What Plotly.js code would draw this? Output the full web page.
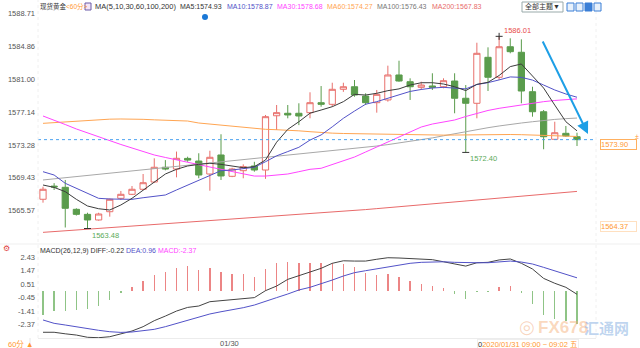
<!DOCTYPE html>
<html><head><meta charset="utf-8">
<script src="https://cdn.plot.ly/plotly-3.0.1.min.js"></script>
<style>html,body{margin:0;padding:0;background:#fff;overflow:hidden}#chart{width:640px;height:348px}</style>
</head><body><div id="chart"></div>
<script>
// ---- candle data (60-minute bars) ----
const openP  = [1566.91,1568.45,1568.31,1565.73,1565.14,1564.48,1565.45,1567.02,1567.49,1568.08,1568.93,1570.66,1570.45,1571.70,1571.39,1569.87,1572.10,1569.60,1570.26,1570.81,1570.34,1576.70,1576.99,1576.99,1577.06,1578.23,1578.04,1579.80,1580.10,1579.01,1578.23,1578.55,1581.48,1580.69,1580.03,1580.19,1580.10,1580.77,1578.75,1578.16,1583.55,1581.21,1584.79,1584.14,1579.52,1577.17,1573.94,1574.64,1574.24];
const highP  = [1568.38,1568.80,1569.17,1565.85,1565.33,1565.33,1567.00,1567.88,1568.46,1569.87,1571.71,1571.50,1572.50,1571.90,1572.30,1572.60,1574.53,1570.60,1571.00,1571.30,1576.79,1577.96,1577.96,1578.16,1579.45,1580.18,1580.57,1580.57,1580.89,1579.33,1579.72,1582.57,1583.15,1581.09,1580.69,1581.68,1581.09,1581.68,1580.30,1585.26,1584.72,1586.01,1585.78,1585.66,1580.10,1577.37,1576.00,1575.50,1574.71];
const lowP   = [1566.51,1568.00,1563.60,1565.00,1563.48,1564.40,1564.87,1566.82,1567.40,1567.99,1568.85,1570.30,1569.48,1571.30,1569.37,1567.91,1569.17,1569.50,1569.37,1570.14,1569.30,1575.03,1576.40,1575.60,1576.40,1577.76,1577.76,1579.50,1578.93,1577.96,1577.06,1578.35,1580.69,1578.55,1579.72,1579.72,1579.92,1576.99,1572.40,1576.40,1579.60,1580.89,1584.02,1578.16,1576.59,1572.77,1573.86,1574.24,1573.15];
const closeP = [1568.08,1568.35,1565.85,1565.14,1564.48,1565.18,1566.91,1567.49,1568.08,1568.85,1570.66,1570.45,1571.71,1571.50,1569.75,1571.83,1569.64,1570.46,1570.73,1570.34,1576.59,1577.06,1576.79,1576.67,1578.23,1578.04,1579.80,1580.10,1579.13,1578.23,1579.21,1581.48,1580.77,1580.10,1580.30,1580.03,1580.81,1578.75,1578.16,1584.02,1581.21,1584.79,1584.21,1579.60,1577.17,1574.24,1574.71,1574.33,1573.90];

// ---- moving averages ----
const ma5   = [1568.58,1568.30,1567.80,1566.90,1566.12,1565.80,1565.65,1566.24,1567.02,1568.00,1568.97,1569.87,1570.42,1570.81,1571.00,1571.13,1571.00,1570.81,1570.61,1570.73,1571.51,1573.60,1575.10,1576.00,1577.00,1577.37,1577.76,1578.35,1579.21,1579.13,1579.33,1579.64,1579.85,1580.30,1580.57,1580.57,1580.42,1580.10,1579.65,1580.38,1580.62,1581.42,1582.46,1582.77,1581.35,1579.95,1577.95,1576.00,1574.93];
const ma10  = [1570.14,1569.75,1568.78,1568.20,1567.60,1567.02,1566.94,1566.90,1566.90,1567.09,1567.21,1567.41,1568.00,1568.58,1569.17,1569.75,1570.26,1570.34,1570.46,1570.66,1571.31,1572.00,1572.50,1573.00,1573.85,1574.45,1575.40,1576.40,1577.25,1578.05,1578.35,1578.78,1579.18,1579.55,1579.78,1579.95,1580.03,1579.92,1579.85,1580.36,1580.58,1580.90,1581.25,1581.20,1580.88,1580.30,1579.72,1579.25,1578.87];
const ma30  = [1576.67,1576.20,1575.67,1575.15,1574.68,1574.21,1573.74,1573.33,1572.92,1572.51,1572.10,1571.81,1571.51,1571.22,1570.93,1570.69,1570.42,1570.16,1569.87,1569.63,1569.63,1569.75,1569.87,1570.14,1570.42,1570.54,1570.98,1571.39,1571.86,1572.45,1573.03,1573.62,1574.21,1574.79,1575.38,1575.73,1575.97,1576.20,1576.61,1576.99,1577.32,1577.57,1577.78,1577.96,1578.16,1578.35,1578.49,1578.60,1578.68];
const ma60  = [1575.81,1575.90,1575.98,1576.05,1576.12,1576.22,1576.30,1576.32,1576.32,1576.28,1576.22,1576.20,1576.18,1576.08,1575.85,1575.72,1575.62,1575.48,1575.35,1575.22,1575.11,1575.06,1575.03,1574.93,1574.83,1574.71,1574.66,1574.62,1574.59,1574.56,1574.53,1574.50,1574.47,1574.44,1574.43,1574.42,1574.43,1574.44,1574.47,1574.50,1574.52,1574.52,1574.50,1574.48,1574.45,1574.44,1574.38,1574.32,1574.27];
const ma100 = [1569.17,1569.30,1569.42,1569.56,1569.69,1569.82,1569.95,1570.08,1570.20,1570.34,1570.47,1570.60,1570.72,1570.86,1570.99,1571.12,1571.25,1571.38,1571.50,1571.64,1571.77,1571.91,1572.05,1572.19,1572.34,1572.48,1572.60,1572.72,1572.85,1572.98,1573.15,1573.32,1573.50,1573.70,1573.90,1574.10,1574.35,1574.60,1574.85,1575.05,1575.30,1575.50,1575.70,1575.85,1576.00,1576.15,1576.27,1576.36,1576.43];
const ma200 = [1563.03,1563.12,1563.21,1563.30,1563.39,1563.48,1563.57,1563.66,1563.75,1563.84,1563.93,1564.02,1564.11,1564.20,1564.29,1564.38,1564.47,1564.56,1564.65,1564.74,1564.83,1564.92,1565.01,1565.10,1565.18,1565.26,1565.37,1565.48,1565.59,1565.70,1565.81,1565.92,1566.03,1566.14,1566.25,1566.36,1566.47,1566.58,1566.69,1566.80,1566.91,1567.02,1567.13,1567.24,1567.35,1567.46,1567.57,1567.70,1567.83];

// ---- MACD(26,12,9) ----
const diffLine = [-2.94,-2.94,-3.05,-3.14,-3.30,-3.33,-3.26,-3.07,-2.85,-2.54,-2.11,-1.78,-1.42,-1.16,-1.06,-0.75,-0.68,-0.61,-0.51,-0.46,0.04,0.37,0.85,1.12,1.40,1.64,2.00,2.18,2.16,2.16,2.29,2.40,2.38,2.33,2.29,2.26,2.11,1.93,1.80,2.04,2.07,2.24,2.31,2.00,1.59,0.92,0.57,0.28,-0.22];
const deaLine  = [-2.06,-2.30,-2.42,-2.56,-2.68,-2.80,-2.90,-2.95,-2.92,-2.85,-2.73,-2.54,-2.30,-2.06,-1.87,-1.63,-1.47,-1.35,-1.18,-0.99,-0.70,-0.46,-0.20,0.09,0.28,0.52,0.80,1.09,1.33,1.47,1.61,1.76,1.90,2.00,2.07,2.11,2.11,2.07,2.04,2.04,2.04,2.09,2.16,2.09,1.95,1.71,1.47,1.21,0.96];
const macdHist = [-1.70,-1.40,-1.40,-1.35,-1.30,-1.05,-0.60,-0.10,0.30,0.70,1.15,1.40,1.65,1.80,1.55,1.65,1.35,1.25,1.20,1.00,1.60,2.00,2.10,2.05,2.05,2.00,2.00,1.95,1.70,1.30,1.15,1.20,1.00,0.75,0.55,0.35,0.20,-0.20,-0.55,-0.05,-0.05,0.30,0.40,-0.15,-0.90,-1.70,-2.00,-2.10,-2.37];

// ---- axes labels ----
const priceTicks = [1588.71,1584.86,1581.00,1577.14,1573.28,1569.43,1565.57];
const priceTicksRight = [1588.71,1584.86,1581.00,1577.14,1569.43,1565.57];
const macdTicks = [2.43,1.47,0.51,-0.45,-1.41,-2.37];
const dateTickPos = [16.8];
const dateTickText = ['01/30'];
const refLevel = 1564.37;
const markHigh = [41];
const markLow = [4, 38];

const idx = openP.map((_, i) => i);
const f2 = v => v.toFixed(2);
const last = a => a[a.length - 1];
const lastPrice = last(closeP);

const W = 640, H = 348, ML = 38, MR = 44, MT = 0, MB = 10;
const PW = W - ML - MR, PH = H - MT - MB;
const px = x => (x - ML) / PW;           // pixel -> paper x
const py = y => 1 - (y - MT) / PH;       // pixel -> paper y

const FONT = '"Liberation Sans", Arial, "Noto Sans CJK SC", sans-serif';
const FS = 7;
const C = {ma5:'#3c3c3c', ma10:'#5252c8', ma30:'#ff44ff', ma60:'#ffa552', ma100:'#a8a8a8', ma200:'#e86a6a',
           up:'#e8706c', down:'#5a9c4c', orange:'#ff9933', green:'#5aaa5a', red:'#e84a4a'};

const traces = [
  {type:'candlestick', x:idx, open:openP, high:highP, low:lowP, close:closeP, xaxis:'x', yaxis:'y',
   increasing:{line:{color:C.up, width:1}, fillcolor:'#ffffff'},
   decreasing:{line:{color:C.down, width:1}, fillcolor:C.down},
   whiskerwidth:0, hoverinfo:'skip', showlegend:false},
];
[[ma200,C.ma200],[ma100,C.ma100],[ma60,C.ma60],[ma30,C.ma30],[ma10,C.ma10],[ma5,C.ma5]].forEach(([a,c]) => {
  traces.push({type:'scatter', mode:'lines', x:idx, y:a, xaxis:'x', yaxis:'y', line:{color:c, width:1}, hoverinfo:'skip', showlegend:false});
});
traces.push({type:'scatter', mode:'markers', x:markHigh, y:markHigh.map(i=>highP[i]), xaxis:'x', yaxis:'y',
  marker:{symbol:'cross-thin', size:5, line:{color:'#333', width:1}}, hoverinfo:'skip', showlegend:false});
traces.push({type:'scatter', mode:'markers', x:markLow, y:markLow.map(i=>lowP[i]), xaxis:'x', yaxis:'y',
  marker:{symbol:'line-ew', size:5, line:{color:'#333', width:1}}, hoverinfo:'skip', showlegend:false});
traces.push({type:'bar', x:idx, y:macdHist, xaxis:'x2', yaxis:'y2', width:0.12,
  marker:{color:macdHist.map(v => v >= 0 ? '#ec8585' : '#8fc486'), line:{width:0}}, hoverinfo:'skip', showlegend:false});
traces.push({type:'scatter', mode:'lines', x:idx, y:diffLine, xaxis:'x2', yaxis:'y2', line:{color:'#444', width:1}, hoverinfo:'skip', showlegend:false});
traces.push({type:'scatter', mode:'lines', x:idx, y:deaLine, xaxis:'x2', yaxis:'y2', line:{color:'#5252c8', width:1}, hoverinfo:'skip', showlegend:false});

const xr = [-(43 - ML) / 11.125, (W - MR - 43) / 11.125];
const mainDom = [py(243), py(12)];
const macdDom = [0, py(246)];
const mainRange = [1588.71 - (243 - 13.3) / 8.53, 1588.71 + (13.3 - 12) / 8.53];
const macdRange = [2.43 - (338 - 257.3) / 13.96, 2.43 + (257.3 - 246) / 13.96];
const tickFont = {family:FONT, size:7.5, color:'#555'};

const yBase = {showgrid:false, zeroline:false, showline:false, ticks:'', tickfont:tickFont, fixedrange:true, automargin:false, ticklabelstandoff:2};
const layout = {
  width:W, height:H, margin:{l:ML, r:MR, t:MT, b:MB, pad:0},
  paper_bgcolor:'#fff', plot_bgcolor:'#fff', showlegend:false, boxgap:0.2, bargap:0,
  font:{family:FONT, size:FS, color:'#333'},
  xaxis:{domain:[0,1], range:xr, anchor:'y', showticklabels:false, showgrid:false, zeroline:false, rangeslider:{visible:false}},
  xaxis2:{domain:[0,1], range:xr, anchor:'y2', showgrid:false, zeroline:false, showticklabels:false, ticks:'', showline:true, linecolor:'#ececec', automargin:false},
  yaxis:Object.assign({}, yBase, {domain:mainDom, range:mainRange, side:'left', tickvals:priceTicks, ticktext:priceTicks.map(f2)}),
  yaxis3:Object.assign({}, yBase, {overlaying:'y', range:mainRange, side:'right', anchor:'x', tickvals:priceTicksRight, ticktext:priceTicksRight.map(f2), ticklabelstandoff:5}),
  yaxis2:Object.assign({}, yBase, {domain:macdDom, range:macdRange, side:'left', anchor:'x2', tickvals:macdTicks, ticktext:macdTicks.map(f2)}),
  yaxis4:Object.assign({}, yBase, {overlaying:'y2', range:macdRange, side:'right', anchor:'x2', tickvals:macdTicks, ticktext:macdTicks.map(f2), ticklabelstandoff:5}),
  shapes:[
    {type:'line', xref:'paper', yref:'y', x0:0, x1:1, y0:lastPrice, y1:lastPrice, line:{color:'#4da3f0', width:1, dash:'dot'}},
    {type:'line', xref:'paper', yref:'paper', x0:px(0), x1:px(W), y0:py(244), y1:py(244), line:{color:'#efefef', width:1}},
    {type:'line', xref:'paper', yref:'paper', x0:0, x1:0, y0:0, y1:1, line:{color:'#f0f0f0', width:1, dash:'dot'}},
    {type:'line', xref:'paper', yref:'paper', x0:1, x1:1, y0:0, y1:1, line:{color:'#f0f0f0', width:1, dash:'dot'}},
    {type:'line', xref:'paper', yref:'paper', x0:px(30), x1:px(30), y0:py(338), y1:py(348), line:{color:'#e6e6e6', width:1}},
    {type:'circle', xref:'paper', yref:'paper', x0:px(202), x1:px(208), y0:py(20), y1:py(14), fillcolor:'#1a78d6', line:{width:0}},
    {type:'rect', xref:'paper', yref:'paper', x0:px(522), x1:px(563), y0:py(12), y1:py(2), fillcolor:'#fff', line:{color:'#9aa', width:1}},
    ...[567,576,585,594].map(xx => ({type:'rect', xref:'paper', yref:'paper', x0:px(xx), x1:px(xx+7), y0:py(11), y1:py(3),
      fillcolor: xx===585 ? '#3b7fd6' : '#e8f1fb', line:{color:'#3b7fd6', width:1}})),
    {type:'rect', xref:'paper', yref:'paper', x0:px(85), x1:px(91), y0:py(10), y1:py(3), fillcolor:'#f3e6f6', line:{color:'#6a5aa8', width:1}},
  ],
  annotations:[]
};
const A = layout.annotations;
const ann = (o) => A.push(Object.assign({showarrow:false, xref:'paper', yref:'paper', xanchor:'left', yanchor:'middle', font:{family:FONT, size:FS, color:'#333'}}, o));
const fnt = (c, s) => ({family:FONT, size:s || FS, color:c});

// top legend
ann({x:px(38), y:py(7), text:'现货黄金<span style="color:#ff9933">&lt;60分&gt;</span>', font:fnt('#333', 6.5)});
ann({x:px(93), y:py(7), text:'MA(5,10,30,60,100,200)', font:fnt('#333', 7.5)});
ann({x:px(178), y:py(7), text:'MA5:' + f2(last(ma5)), font:fnt('#333')});
ann({x:px(225), y:py(7), text:'MA10:' + f2(last(ma10)), font:fnt(C.ma10)});
ann({x:px(275), y:py(7), text:'MA30:' + f2(last(ma30)), font:fnt(C.ma30)});
ann({x:px(325), y:py(7), text:'MA60:' + f2(last(ma60)), font:fnt(C.ma60)});
ann({x:px(375), y:py(7), text:'MA100:' + f2(last(ma100)), font:fnt('#777')});
ann({x:px(430), y:py(7), text:'MA200:' + f2(last(ma200)), font:fnt(C.ma200)});
ann({x:px(542.5), y:py(7), xanchor:'center', text:'全部主题▼', font:fnt('#333')});

// MACD title
ann({x:px(38), y:py(251), text:'MACD(26,12,9) DIFF:' + f2(last(diffLine)) + ' <span style="color:#5252c8">DEA:' + f2(last(deaLine)) + '</span> <span style="color:#ff44ff">MACD:' + f2(last(macdHist)) + '</span>'});
ann({x:px(1), y:py(248), text:'⚙', font:{family:'DejaVu Sans', size:8, color:'#e04040'}});

// extreme labels
markHigh.forEach(i => ann({xref:'x', yref:'y', x:i, y:highP[i], xanchor:'left', yanchor:'bottom', xshift:3, yshift:-1, text:f2(highP[i]), font:fnt(C.red, 7.5)}));
markLow.forEach(i => ann({xref:'x', yref:'y', x:i, y:lowP[i], xanchor:'left', yanchor:'top', xshift:2, yshift:0, text:f2(lowP[i]), font:fnt(C.green, 7.5)}));

// right price boxes
ann({x:1, yref:'y', y:lastPrice, xshift:4, yshift:-5, width:35, height:9, align:'left', text:f2(lastPrice), bgcolor:'#fff', bordercolor:'#ffb060', borderwidth:1, borderpad:0, font:fnt(C.orange, 7.5)});
ann({x:1, yref:'y', y:refLevel, xshift:4, yshift:-6, width:35, height:9, align:'left', text:f2(refLevel), bgcolor:'#fff', bordercolor:'#ffe0c0', borderwidth:1, borderpad:0, font:fnt(C.orange, 7.5)});
ann({x:1, yref:'y', y:lastPrice, xshift:37, yshift:3, text:'±', font:fnt(C.orange, 7)});

// arrow
A.push({xref:'paper', yref:'paper', x:px(588), y:py(134), ax:-46, ay:-94, axref:'pixel', ayref:'pixel', showarrow:true,
  arrowhead:2, arrowsize:1.2, arrowwidth:2, arrowcolor:'#1e9fe6', text:''});

// x tick + bottom bar
dateTickPos.forEach((p, k) => ann({xref:'x2', x:p, y:py(343), xanchor:'center', text:dateTickText[k], font:fnt('#555', 7.5)}));
ann({x:px(6), y:py(344), text:'60分 ▲', font:fnt(C.orange, 7.5)});
ann({x:px(477), y:py(344), text:'0<span style="color:#ff9933">2020/01/31 09:00 ~ 09:02 五</span>', font:fnt('#333', 7.5), bordercolor:'#eeeeee', borderwidth:1, borderpad:0});

// watermark
ann({x:px(527), y:py(326), xanchor:'center', text:'◎', font:{family:'DejaVu Sans', size:18, color:'rgba(240,160,110,0.45)'}});
ann({x:px(536), y:py(327), text:'<b>FX678</b>', font:{family:FONT, size:17, color:'rgba(245,170,110,0.45)'}});
ann({x:px(582), y:py(327), text:'<b>汇通网</b>', font:{family:'"Noto Sans CJK SC", sans-serif', size:15, color:'rgba(110,160,220,0.45)'}});

Plotly.newPlot('chart', traces, layout, {staticPlot:true, displayModeBar:false});
</script>
</body></html>
